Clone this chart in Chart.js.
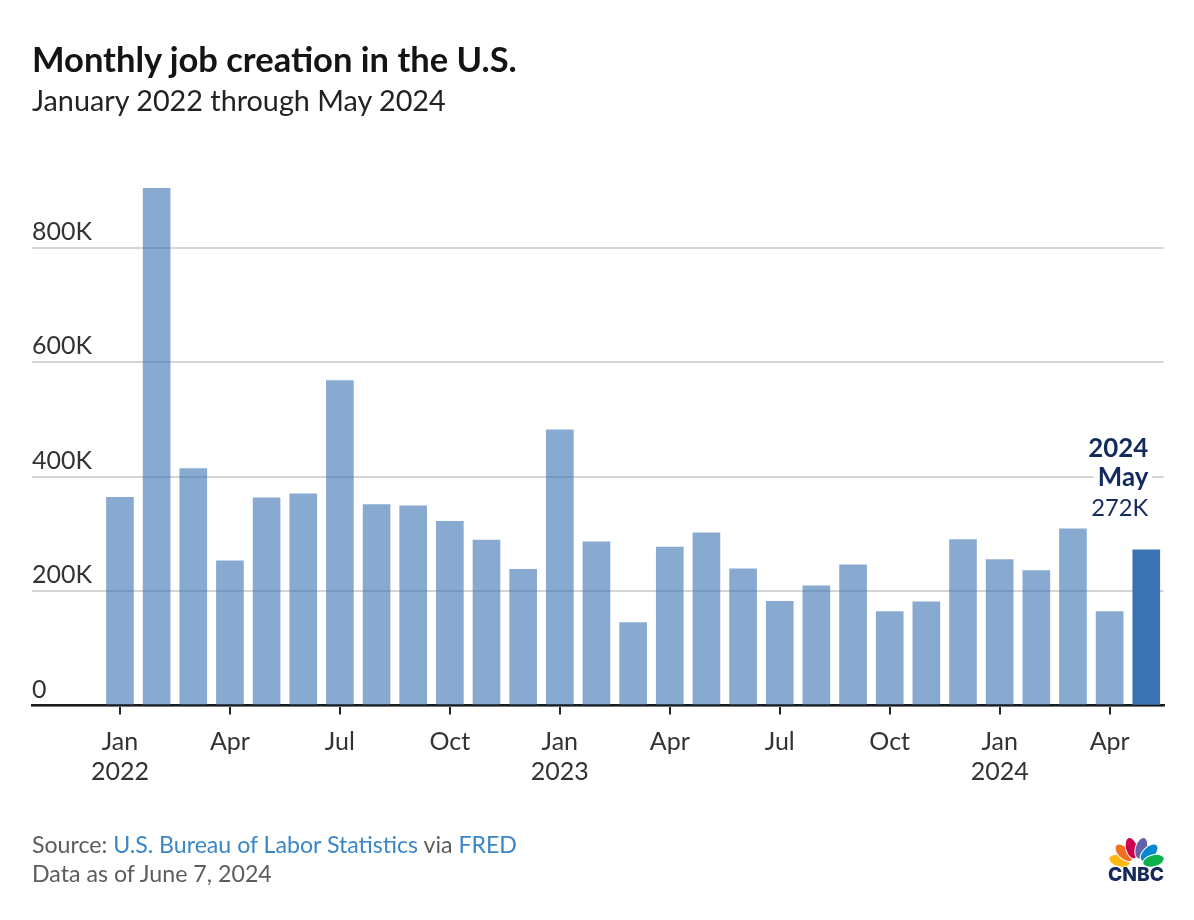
<!DOCTYPE html>
<html>
<head>
<meta charset="utf-8">
<script src="https://cdn.jsdelivr.net/npm/chart.js@4.4.1/dist/chart.umd.min.js"></script>
<style>
  html, body { margin: 0; padding: 0; background: #fff; }
  #wrap { position: relative; width: 1194px; height: 920px; overflow: hidden; font-family: Lato, "Noto Sans", sans-serif; }
  #chart { position: absolute; left: 0; top: 0; }
  .txt { position: absolute; white-space: nowrap; line-height: 1; }
  .bl { display: inline-block; width: 0; height: 0; }
  #title { font-weight: 700; color: #141414; }
  #subtitle { color: #222; }
  .foot { color: #5c5c5c; }
  .foot .lnk { color: #3a86c8; }
  #cnbc { font-family: Inter, "Liberation Sans", sans-serif; font-weight: 800; color: #15295b; }
  #logo { position: absolute; left: 1104px; top: 828px; }
</style>
</head>
<body>
<div id="wrap">
  <canvas id="chart" width="1194" height="920"></canvas>
  <div id="title" class="txt">Monthly job creation in the U.S.<span class="bl"></span></div>
  <div id="subtitle" class="txt">January 2022 through May 2024<span class="bl"></span></div>
  <div id="src" class="txt foot">Source: <span class="lnk">U.S. Bureau of Labor Statistics</span> via <span class="lnk">FRED</span><span class="bl"></span></div>
  <div id="asof" class="txt foot">Data as of June 7, 2024<span class="bl"></span></div>
  <svg id="logo" width="64" height="42" viewBox="0 0 64 42">
    <g transform="translate(32.5 37)">
      <ellipse cx="0" cy="-17.5" rx="6" ry="11" fill="#fcb711" stroke="#fff" stroke-width="1" transform="rotate(-76)"/>
      <ellipse cx="0" cy="-17.5" rx="6" ry="11" fill="#f37021" stroke="#fff" stroke-width="1" transform="rotate(-46)"/>
      <ellipse cx="0" cy="-17.5" rx="6" ry="11" fill="#cc004c" stroke="#fff" stroke-width="1" transform="rotate(-16)"/>
      <ellipse cx="0" cy="-17.5" rx="6" ry="11" fill="#6460aa" stroke="#fff" stroke-width="1" transform="rotate(16)"/>
      <ellipse cx="0" cy="-17.5" rx="6" ry="11" fill="#0089d0" stroke="#fff" stroke-width="1" transform="rotate(46)"/>
      <ellipse cx="0" cy="-17.5" rx="6" ry="11" fill="#0db14b" stroke="#fff" stroke-width="1" transform="rotate(76)"/>
    </g>
  </svg>
  <div id="cnbc" class="txt">CNBC<span class="bl"></span></div>
</div>
<script>
// months shown, Jan 2022 .. May 2024
const months = [
  'Jan 2022', 'Feb 2022', 'Mar 2022', 'Apr 2022', 'May 2022', 'Jun 2022',
  'Jul 2022', 'Aug 2022', 'Sep 2022', 'Oct 2022', 'Nov 2022', 'Dec 2022',
  'Jan 2023', 'Feb 2023', 'Mar 2023', 'Apr 2023', 'May 2023', 'Jun 2023',
  'Jul 2023', 'Aug 2023', 'Sep 2023', 'Oct 2023', 'Nov 2023', 'Dec 2023',
  'Jan 2024', 'Feb 2024', 'Mar 2024', 'Apr 2024', 'May 2024'
];
// jobs added, thousands
const jobsK = [
  364, 904, 414, 253, 363, 370, 568, 351, 349, 322, 289, 238,
  482, 286, 145, 277, 302, 239, 182, 209, 246, 164, 181, 290,
  255, 236, 309, 164, 272
];
const xTickIdx = [0, 3, 6, 9, 12, 15, 18, 21, 24, 27];
const xTickLabels = [['Jan', '2022'], ['Apr'], ['Jul'], ['Oct'], ['Jan', '2023'], ['Apr'], ['Jul'], ['Oct'], ['Jan', '2024'], ['Apr']];
const yTicks = [0, 200, 400, 600, 800];
const yTickLabels = ['0', '200K', '400K', '600K', '800K'];

const FONT = 'Lato, "Noto Sans", sans-serif';
const last = jobsK.length - 1;

// size a font so a sample string hits a given pixel width
var measureCtx = document.createElement('canvas').getContext('2d');
function fitSize(text, weight, width, family) {
    measureCtx.font = weight + ' 100px ' + (family || FONT);
    return 100 * width / measureCtx.measureText(text).width;
}

// put an html text line at a left x and baseline y, scaled to a width
function place(id, left, baseline, width) {
    var el = document.getElementById(id);
    el.style.left = left + 'px';
    el.style.top = '0px';
    el.style.fontSize = '100px';
    var w = el.getBoundingClientRect().width;
    el.style.fontSize = (100 * width / w) + 'px';
    var b = el.querySelector('.bl').getBoundingClientRect().top - el.getBoundingClientRect().top;
    el.style.top = (baseline - b) + 'px';
}

place('title', 32, 72, 485);
place('subtitle', 32, 111, 414);
place('src', 32, 853, 485);
place('asof', 32, 882, 240);
place('cnbc', 1108, 881, 56);

var ySize = fitSize('800K', 'normal', 60);
var xSize = fitSize('2022', 'normal', 58);
var calloutBold = fitSize('2024', 'bold', 60);
var calloutReg = fitSize('272K', 'normal', 57);

var barColors = jobsK.map(function (v, i) {
    return i === last ? '#3b72b1' : 'rgba(59, 114, 177, 0.6)';
});

// year / month / value label above the latest bar
var calloutPlugin = {
    id: 'callout',
    afterDatasetsDraw: function (chart) {
        var bar = chart.getDatasetMeta(0).data[last];
        var ctx = chart.ctx;
        var parts = months[last].split(' ');
        var lines = [
            { text: parts[1], bold: true },
            { text: parts[0], bold: true },
            { text: jobsK[last] + 'K', bold: false }
        ];
        var right = bar.x + 2;
        ctx.save();
        ctx.textAlign = 'right';
        ctx.textBaseline = 'alphabetic';
        lines.forEach(function (ln, k) {
            var y = bar.y - 34 - (lines.length - 1 - k) * 29.5;
            ctx.font = (ln.bold ? 'bold ' + calloutBold : calloutReg) + 'px ' + FONT;
            var w = ctx.measureText(ln.text).width;
            ctx.fillStyle = '#fff';
            ctx.fillRect(right - w - 4, y - 19, w + 8, 25);
            ctx.fillStyle = '#142a5e';
            ctx.fillText(ln.text, right, y);
        });
        ctx.restore();
    }
};

Chart.defaults.font.family = FONT;

var ctx = document.getElementById('chart');
var myChart = new Chart(ctx, {
    type: 'bar',
    data: {
        datasets: [{
            data: jobsK.map(function (v, i) { return { x: i, y: v }; }),
            backgroundColor: barColors,
            borderWidth: 0,
            barThickness: 27
        }]
    },
    options: {
        responsive: false,
        animation: false,
        layout: {
            padding: { left: 32, right: 30.5, top: 162, bottom: 134.5 }
        },
        plugins: {
            legend: { display: false },
            tooltip: { enabled: false }
        },
        scales: {
            x: {
                type: 'linear',
                min: -2.4,
                max: 28.47,
                offset: false,
                afterBuildTicks: function (scale) {
                    scale.ticks = xTickIdx.map(function (v) { return { value: v }; });
                },
                afterFit: function (scale) { scale.height = 80; },
                ticks: {
                    autoSkip: false,
                    maxRotation: 0,
                    minRotation: 0,
                    padding: 13,
                    color: '#333',
                    font: { size: xSize, lineHeight: 29.5 / xSize },
                    callback: function (v, i) { return xTickLabels[i]; }
                },
                grid: {
                    drawOnChartArea: false,
                    drawTicks: true,
                    tickLength: 9,
                    color: '#222',
                    lineWidth: 2,
                    offset: false
                },
                border: { display: true, color: '#1b1b1b', width: 2.5 }
            },
            y: {
                min: 0,
                max: 950,
                afterBuildTicks: function (scale) {
                    scale.ticks = yTicks.map(function (v) { return { value: v }; });
                },
                afterFit: function (scale) { scale.width = 0; },
                ticks: {
                    mirror: true,
                    padding: 0,
                    labelOffset: -16,
                    color: '#333',
                    font: { size: ySize },
                    callback: function (v, i) { return yTickLabels[i]; }
                },
                grid: { drawTicks: false, color: '#d5d5d5', lineWidth: 2 },
                border: { display: false }
            }
        }
    },
    plugins: [calloutPlugin]
});
</script>
</body>
</html>
